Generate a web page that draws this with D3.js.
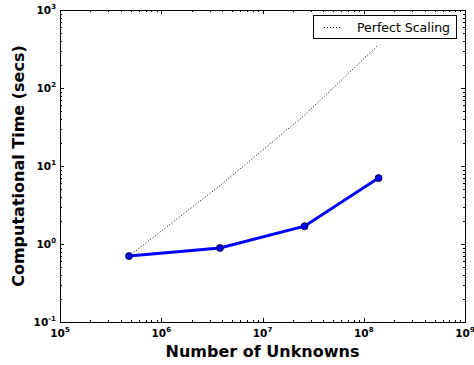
<!DOCTYPE html>
<html>
<head>
<meta charset="utf-8">
<script src="https://cdn.jsdelivr.net/npm/d3@7"></script>
<style>
  body { margin: 0; background: #fff; }
  text { font-family: "DejaVu Sans", sans-serif; }
</style>
</head>
<body>
<div id="chart"></div>
<script>
// measured run
var unknowns = [4.8e5, 3.8e6, 2.6e7, 1.4e8];
var times = [0.70, 0.89, 1.69, 7.0];
// ideal: time grows 8x per step
var perfect = [0.7, 5.6, 44.8, 358.4];
var xDecades = [5, 6, 7, 8, 9];
var yDecades = [-1, 0, 1, 2, 3];

var width = 474, height = 365;
var margin = {left: 60, right: 9, top: 10, bottom: 43};

var svg = d3.select("#chart").append("svg").attr("width", width).attr("height", height);

var x = d3.scaleLog().domain([1e5, 1e9]).range([margin.left, width - margin.right]);
var y = d3.scaleLog().domain([0.1, 1000]).range([height - margin.bottom, margin.top]);

var x0 = margin.left, x1 = width - margin.right, y0 = height - margin.bottom, y1 = margin.top;

// minor ticks: 2..9 times each decade
function minors(decs) {
  var out = [];
  for (var i = 0; i < decs.length - 1; i++) {
    for (var m = 2; m <= 9; m++) out.push(m * Math.pow(10, decs[i]));
  }
  return out;
}
var xMinor = minors(xDecades), yMinor = minors(yDecades);
var xMajor = xDecades.map(function(e){ return Math.pow(10, e); });
var yMajor = yDecades.map(function(e){ return Math.pow(10, e); });

var ticks = svg.append("g").attr("stroke", "#000").attr("stroke-width", 1);
function hTicks(vals, len) {
  vals.forEach(function(v){
    var px = Math.round(x(v)) + 0.5;
    ticks.append("line").attr("x1", px).attr("x2", px).attr("y1", y0).attr("y2", y0 - len);
    ticks.append("line").attr("x1", px).attr("x2", px).attr("y1", y1).attr("y2", y1 + len);
  });
}
function vTicks(vals, len) {
  vals.forEach(function(v){
    var py = Math.round(y(v)) + 0.5;
    ticks.append("line").attr("y1", py).attr("y2", py).attr("x1", x0).attr("x2", x0 + len);
    ticks.append("line").attr("y1", py).attr("y2", py).attr("x1", x1).attr("x2", x1 - len);
  });
}
hTicks(xMinor, 2); hTicks(xMajor, 4);
vTicks(yMinor, 2); vTicks(yMajor, 4);

// frame
svg.append("rect").attr("x", x0 + 0.5).attr("y", y1 + 0.5)
  .attr("width", x1 - x0).attr("height", y0 - y1)
  .attr("fill", "none").attr("stroke", "#000").attr("stroke-width", 1);

// tick labels
xDecades.forEach(function(e){
  var t = svg.append("text").attr("x", x(Math.pow(10, e))).attr("y", y0 + 15)
    .attr("text-anchor", "middle").attr("font-size", 10.5).attr("font-weight", "bold");
  t.append("tspan").text("10");
  t.append("tspan").attr("dy", -5).attr("font-size", 7).text(e);
});
yDecades.forEach(function(e){
  var t = svg.append("text").attr("x", x0 - 4).attr("y", y(Math.pow(10, e)) + 4)
    .attr("text-anchor", "end").attr("font-size", 10.5).attr("font-weight", "bold");
  t.append("tspan").text("10");
  t.append("tspan").attr("dy", -5).attr("font-size", 7).text(e);
});

// axis titles
svg.append("text").attr("x", (x0 + x1) / 2).attr("y", 357)
  .attr("text-anchor", "middle").attr("font-size", 16).attr("font-weight", "bold")
  .text("Number of Unknowns");
svg.append("text").attr("transform", "translate(24," + ((y0 + y1) / 2) + ") rotate(-90)")
  .attr("text-anchor", "middle").attr("font-size", 16).attr("font-weight", "bold")
  .text("Computational Time (secs)");

var line = d3.line().x(function(d){ return x(d[0]); }).y(function(d){ return y(d[1]); });

svg.append("path").datum(d3.zip(unknowns, perfect)).attr("d", line)
  .attr("fill", "none").attr("stroke", "#000").attr("stroke-width", 1)
  .attr("stroke-dasharray", "1,2");

svg.append("path").datum(d3.zip(unknowns, times)).attr("d", line)
  .attr("fill", "none").attr("stroke", "#0000ff").attr("stroke-width", 3);

svg.selectAll("circle.pt").data(d3.zip(unknowns, times)).enter().append("circle")
  .attr("cx", function(d){ return x(d[0]); }).attr("cy", function(d){ return y(d[1]); })
  .attr("r", 3.5).attr("fill", "#0000ff").attr("stroke", "#000").attr("stroke-width", 0.8);

// legend
var lg = svg.append("g");
lg.append("rect").attr("x", 313.5).attr("y", 15.5).attr("width", 143).attr("height", 23)
  .attr("fill", "#fff").attr("stroke", "#000").attr("stroke-width", 1);
lg.append("line").attr("x1", 324).attr("x2", 340).attr("y1", 27.5).attr("y2", 27.5)
  .attr("stroke", "#000").attr("stroke-width", 1).attr("stroke-dasharray", "1,2");
lg.append("text").attr("x", 357).attr("y", 32).attr("font-size", 12.5).text("Perfect Scaling");
</script>
</body>
</html>
